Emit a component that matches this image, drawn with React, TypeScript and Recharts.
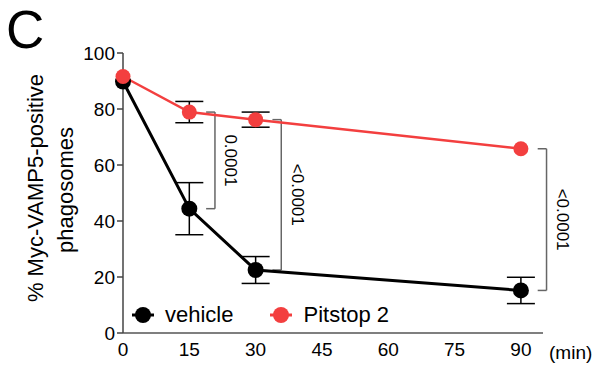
import React from 'react';
import { LineChart, Line, XAxis, YAxis, ErrorBar, ReferenceLine } from 'recharts';

// time points (min) and group means / error
const minutes = [0, 15, 30, 90];
const vehicleMean = [89.8, 44.4, 22.5, 15.2];
const vehicleErr = [0, 9.3, 4.8, 4.7];
const pitstopMean = [91.6, 78.9, 76.2, 65.8];
const pitstopErr = [0, 3.8, 2.7, 0];

const xTicks = [0, 15, 30, 45, 60, 75, 90];
const yTicks = [0, 20, 40, 60, 80, 100];

// significance brackets between the groups
const bracketIdx = [1, 2, 3];
const pValues = ['0.0001', '<0.0001', '<0.0001'];

const RED = '#f33f3f';
const FONT = '"Liberation Sans", Arial, Helvetica, sans-serif';

const data = minutes.map((m, i) => ({
  min: m,
  vehicle: vehicleMean[i],
  vehicleErr: vehicleErr[i],
  pitstop: pitstopMean[i],
  pitstopErr: pitstopErr[i],
}));

function LegendMarker({ color }: { color: string }) {
  return (
    <svg width={24} height={18} style={{ display: 'block' }}>
      <line x1={1} y1={9} x2={23} y2={9} stroke={color} strokeWidth={3} />
      <circle cx={12} cy={9} r={8} fill={color} />
    </svg>
  );
}

export default function App() {
  const W = 602;
  const H = 368;

  return (
    <div style={{ position: 'absolute', left: 0, top: 0, width: W, height: H, background: '#fff', fontFamily: FONT }}>
      <LineChart width={W} height={H} data={data} margin={{ top: 53, right: 59, left: 63, bottom: 5 }}>
        <XAxis
          dataKey="min"
          type="number"
          domain={[0, 95]}
          ticks={xTicks}
          tickLine={false}
          tickSize={6}
          tickMargin={4}
          stroke="#555"
          strokeWidth={1.5}
          height={30}
          tick={{ fill: '#000', fontSize: 19, fontFamily: FONT }}
        />
        <YAxis
          type="number"
          domain={[0, 100]}
          ticks={yTicks}
          width={60}
          tickSize={6}
          stroke="#444"
          strokeWidth={1.5}
          tick={{ fill: '#000', fontSize: 19, fontFamily: FONT }}
        />
        {bracketIdx.map((idx, k) => {
          const x = minutes[idx];
          const top = pitstopMean[idx];
          const bot = vehicleMean[idx];
          const off = 5.8;
          return (
            <React.Fragment key={k}>
              <ReferenceLine
                ifOverflow="visible"
                segment={[{ x: x + off - 2, y: top }, { x: x + off, y: top }]}
                stroke="#666"
                strokeWidth={1.5}
              />
              <ReferenceLine
                ifOverflow="visible"
                segment={[{ x: x + off - 2, y: bot }, { x: x + off, y: bot }]}
                stroke="#666"
                strokeWidth={1.5}
              />
              <ReferenceLine
                ifOverflow="visible"
                segment={[{ x: x + off, y: top }, { x: x + off, y: bot }]}
                stroke="#666"
                strokeWidth={1.5}
                label={(p: any) => {
                  const vb = p.viewBox || {};
                  const cx = (vb.x ?? 0) + 16;
                  const cy = (vb.y ?? 0) + (vb.height ?? 0) / 2;
                  return (
                    <text
                      x={cx}
                      y={cy}
                      transform={`rotate(90, ${cx}, ${cy})`}
                      textAnchor="middle"
                      dominantBaseline="central"
                      fontSize={17}
                      fontFamily={FONT}
                      fill="#000"
                    >
                      {pValues[k]}
                    </text>
                  );
                }}
              />
            </React.Fragment>
          );
        })}
        <Line
          dataKey="vehicle"
          stroke="#000"
          strokeWidth={3}
          dot={{ r: 8, fill: '#000', stroke: '#000', strokeWidth: 0 }}
          isAnimationActive={false}
        >
          <ErrorBar dataKey="vehicleErr" width={14} stroke="#000" strokeWidth={1.5} />
        </Line>
        <Line
          dataKey="pitstop"
          stroke={RED}
          strokeWidth={2.5}
          dot={{ r: 7.5, fill: RED, stroke: RED, strokeWidth: 0 }}
          isAnimationActive={false}
        >
          <ErrorBar dataKey="pitstopErr" width={14} stroke="#000" strokeWidth={1.5} />
        </Line>
      </LineChart>

      <svg width={W} height={H} style={{ position: 'absolute', left: 0, top: 0, pointerEvents: 'none' }}>
        <text x={6} y={48} fontSize={53} fontFamily={FONT} fill="#000">C</text>
        <text
          x={35}
          y={188}
          transform="rotate(-90, 35, 188)"
          textAnchor="middle"
          dominantBaseline="central"
          fontSize={22}
          fontFamily={FONT}
          fill="#000"
        >
          % Myc-VAMP5-positive
        </text>
        <text
          x={65}
          y={190}
          transform="rotate(-90, 65, 190)"
          textAnchor="middle"
          dominantBaseline="central"
          fontSize={22}
          fontFamily={FONT}
          fill="#000"
        >
          phagosomes
        </text>
        <text x={549} y={359} fontSize={19} fontFamily={FONT} fill="#000">(min)</text>
      </svg>

      <div
        style={{
          position: 'absolute',
          left: 131,
          top: 302,
          display: 'flex',
          alignItems: 'center',
          fontSize: 22,
          fontFamily: FONT,
          color: '#000',
        }}
      >
        <LegendMarker color="#000" />
        <span style={{ marginLeft: 10, marginRight: 36 }}>vehicle</span>
        <LegendMarker color={RED} />
        <span style={{ marginLeft: 10 }}>Pitstop 2</span>
      </div>
    </div>
  );
}
